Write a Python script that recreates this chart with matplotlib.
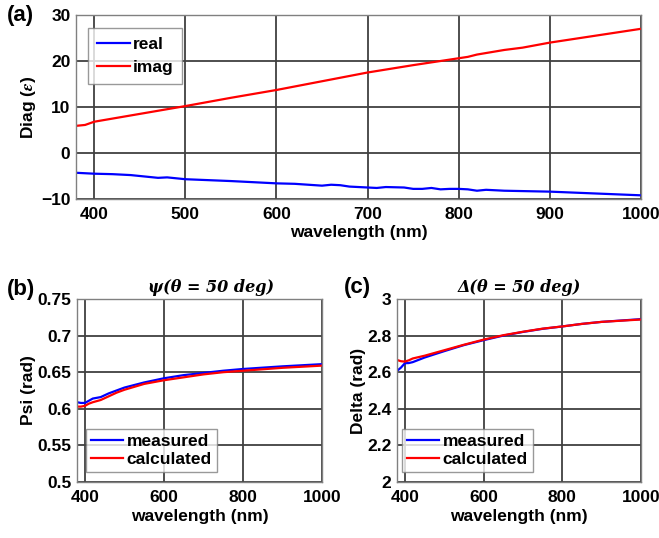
import matplotlib
matplotlib.use("Agg")
import matplotlib.pyplot as plt
import numpy as np

plt.rcParams['font.family'] = ['Liberation Sans', 'DejaVu Sans']
plt.rcParams['font.weight'] = 'bold'
plt.rcParams['mathtext.fontset'] = 'stix'

# Panel (a)
wl_a = [380, 400, 420, 440, 460, 470, 480, 500, 550, 600, 620, 650, 660, 670, 680, 700, 710, 720, 740, 750,
        760, 770, 780, 790, 800, 810, 820, 830, 850, 900, 950, 1000]
eps_real = [-4.3, -4.5, -4.6, -4.8, -5.2, -5.4, -5.3, -5.7, -6.1, -6.6, -6.7, -7.1, -6.9, -7.0, -7.3, -7.5, -7.6, -7.4, -7.5, -7.8,
            -7.8, -7.6, -7.9, -7.8, -7.8, -7.9, -8.2, -8.0, -8.2, -8.4, -8.8, -9.2]
wl_a2 = [380, 390, 400, 450, 500, 550, 600, 650, 700, 750, 800, 810, 820, 850, 870, 900, 950, 1000]
eps_imag = [5.9, 6.1, 6.8, 8.5, 10.2, 12.0, 13.7, 15.6, 17.5, 19.1, 20.6, 20.9, 21.4, 22.4, 22.9, 24.0, 25.5, 27.0]

# Panel (b)
wl_b = [380, 390, 400, 410, 420, 440, 460, 480, 500, 550, 600, 650, 700, 750, 800, 900, 1000]
psi_meas = [0.609, 0.608, 0.608, 0.611, 0.614, 0.616, 0.621, 0.625, 0.629, 0.636, 0.6417, 0.646, 0.649, 0.652, 0.6544, 0.658, 0.661]
psi_calc = [0.603, 0.603, 0.604, 0.607, 0.609, 0.612, 0.617, 0.622, 0.626, 0.634, 0.639, 0.643, 0.647, 0.650, 0.652, 0.656, 0.659]

# Panel (c)
wl_c = [380, 390, 400, 410, 420, 450, 500, 550, 600, 650, 700, 750, 800, 850, 900, 1000]
delta_meas = [2.607, 2.625, 2.649, 2.650, 2.655, 2.680, 2.715, 2.748, 2.775, 2.800, 2.820, 2.837, 2.850, 2.864, 2.875, 2.89]
delta_calc = [2.667, 2.660, 2.658, 2.665, 2.675, 2.690, 2.720, 2.750, 2.778, 2.802, 2.821, 2.838, 2.850, 2.864, 2.875, 2.888]

W, H = 659, 538
fig = plt.figure(figsize=(W/100, H/100), dpi=100)

FS = 12.5

def ax_at(l, t, r, b):
    return fig.add_axes([l/W, 1-b/H, (r-l)/W, (b-t)/H])

grid_kw = dict(color='#404040', linewidth=1.3)
def style(ax):
    ax.grid(True, **grid_kw)
    ax.set_axisbelow(True)
    for s in ax.spines.values():
        s.set_color('#808080')
        s.set_linewidth(1.0)
    ax.tick_params(length=0, labelsize=FS, pad=4)
    ax.tick_params(axis='x', pad=6)
    for lab in ax.get_xticklabels() + ax.get_yticklabels():
        lab.set_fontweight('bold')

blue = '#0000ff'
red = '#ff0000'

def legend(ax, **kw):
    leg = ax.legend(fontsize=FS, frameon=True, fancybox=False, edgecolor='#808080',
                    handletextpad=0.2, **kw)
    leg.get_frame().set_linewidth(1.0)
    for t in leg.get_texts():
        t.set_fontweight('bold')
    return leg

ax1 = ax_at(76, 15, 641, 199)
ax1.plot(wl_a, eps_real, color=blue, lw=1.6, label='real')
ax1.plot(wl_a2, eps_imag, color=red, lw=1.6, label='imag')
ax1.set_xlim(380, 1000)
ax1.set_ylim(-10, 30)
ax1.set_xticks([400, 500, 600, 700, 800, 900, 1000])
ax1.set_yticks([-10, 0, 10, 20, 30])
style(ax1)
ax1.set_xlabel('wavelength (nm)', fontsize=FS, fontweight='bold', labelpad=2)
ax1.set_ylabel(r'Diag ($\epsilon$)', fontsize=FS, fontweight='bold', labelpad=2)
legend(ax1, loc='upper left', bbox_to_anchor=(0.021, 0.929), handlelength=1.9,
       borderpad=0.5, labelspacing=0.45, borderaxespad=0)
fig.text(7/W, 1-16/H, '(a)', fontsize=16, fontweight='bold', va='center', ha='left')

ax2 = ax_at(77, 299, 322, 482)
ax2.plot(wl_b, psi_meas, color=blue, lw=1.6, label='measured')
ax2.plot(wl_b, psi_calc, color=red, lw=1.6, label='calculated')
ax2.set_xlim(380, 1000)
ax2.set_ylim(0.5, 0.75)
ax2.set_xticks([400, 600, 800, 1000])
ax2.set_yticks([0.5, 0.55, 0.6, 0.65, 0.7, 0.75])
ax2.set_yticklabels(['0.5', '0.55', '0.6', '0.65', '0.7', '0.75'])
style(ax2)
ax2.set_xlabel('wavelength (nm)', fontsize=FS, fontweight='bold', labelpad=3)
ax2.set_ylabel('Psi (rad)', fontsize=FS, fontweight='bold', labelpad=1)
ax2.set_title('ψ(θ = 50 deg)', fontsize=11.5, fontweight='bold', style='italic',
              family=['DejaVu Serif'], pad=5, x=0.547)
legend(ax2, loc='lower left', bbox_to_anchor=(0.037, 0.055), handlelength=1.85,
       borderpad=0.3, labelspacing=0.15, borderaxespad=0)
fig.text(7/W, 1-290/H, '(b)', fontsize=16, fontweight='bold', va='center', ha='left')

ax3 = ax_at(397, 299, 641, 482)
ax3.plot(wl_c, delta_meas, color=blue, lw=1.6, label='measured')
ax3.plot(wl_c, delta_calc, color=red, lw=1.6, label='calculated')
ax3.set_xlim(380, 1000)
ax3.set_ylim(2, 3)
ax3.set_xticks([400, 600, 800, 1000])
ax3.set_yticks([2, 2.2, 2.4, 2.6, 2.8, 3])
ax3.set_yticklabels(['2', '2.2', '2.4', '2.6', '2.8', '3'])
style(ax3)
ax3.set_xlabel('wavelength (nm)', fontsize=FS, fontweight='bold', labelpad=3)
ax3.set_ylabel('Delta (rad)', fontsize=FS, fontweight='bold', labelpad=1)
ax3.set_title('Δ(θ = 50 deg)', fontsize=11.5, fontweight='bold', style='italic',
              family=['DejaVu Serif'], pad=5)
legend(ax3, loc='lower left', bbox_to_anchor=(0.02, 0.055), handlelength=1.85,
       borderpad=0.3, labelspacing=0.15, borderaxespad=0)
fig.text(344/W, 1-287/H, '(c)', fontsize=16, fontweight='bold', va='center', ha='left')

fig.savefig('out.png', dpi=100)
